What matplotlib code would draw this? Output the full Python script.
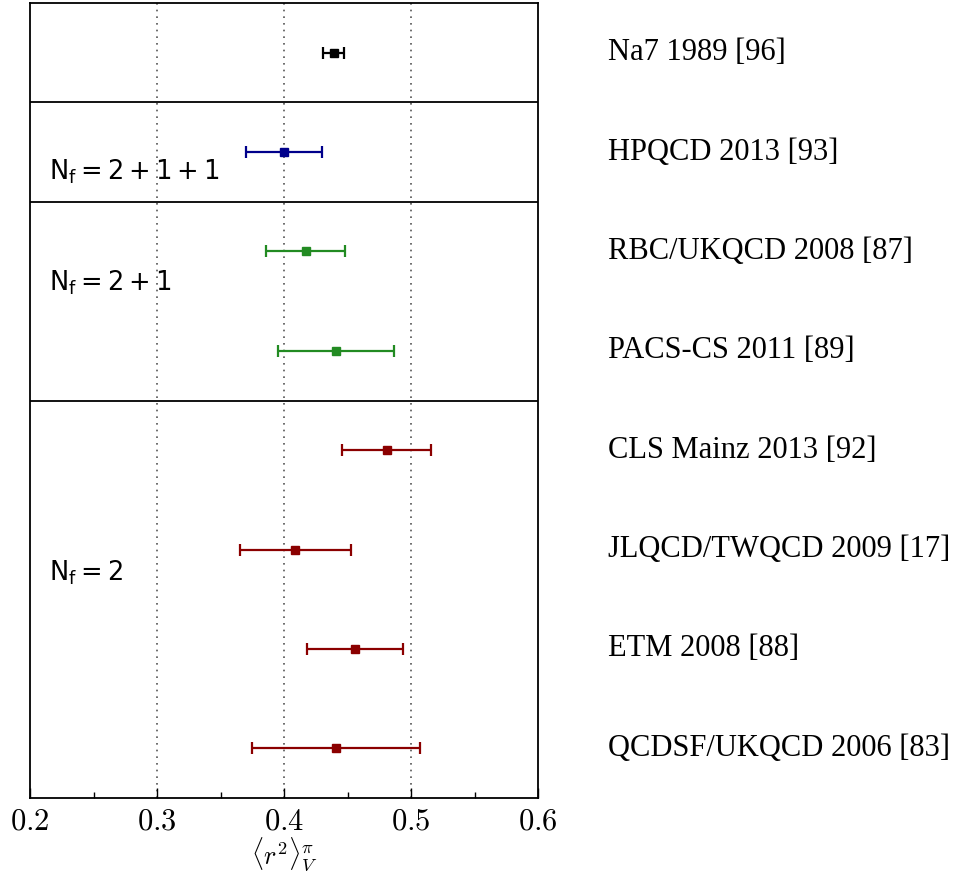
import matplotlib
matplotlib.use('Agg')
import matplotlib.pyplot as plt
import matplotlib.transforms as mtransforms

plt.rcParams['mathtext.fontset'] = 'cm'

# data, top row first
labels = ['Na7 1989 [96]', 'HPQCD 2013 [93]', 'RBC/UKQCD 2008 [87]', 'PACS-CS 2011 [89]',
          'CLS Mainz 2013 [92]', 'JLQCD/TWQCD 2009 [17]', 'ETM 2008 [88]', 'QCDSF/UKQCD 2006 [83]']
values = [0.439, 0.400, 0.417, 0.441, 0.481, 0.409, 0.456, 0.441]
errors = [0.008, 0.030, 0.031, 0.046, 0.035, 0.044, 0.038, 0.066]
colors = ['black', '#00008b', '#228b22', '#228b22', '#8b0000', '#8b0000', '#8b0000', '#8b0000']
groups = [r'$\mathrm{N_f = 2+1+1}$', r'$\mathrm{N_f = 2+1}$', r'$\mathrm{N_f = 2}$']
group_pos = [1.7, 2.82, 5.73]
separators = [1, 2, 4]
xticks = [0.2, 0.3, 0.4, 0.5, 0.6]

fig = plt.figure(figsize=(9.63, 8.76), dpi=100)
ax = fig.add_axes([30/963, 78/876, 508/963, 795/876])
ax.set_xlim(0.2, 0.6)
ax.set_ylim(len(labels), 0)

trans = mtransforms.blended_transform_factory(fig.transFigure, ax.transData)
for i in range(len(labels)):
    ax.errorbar(values[i], i + 0.5, xerr=errors[i], fmt='s', color=colors[i],
                ms=6, lw=1.6, capsize=4, capthick=1.6)
    ax.text(608/963, i + 0.5, labels[i], transform=trans, clip_on=False,
            fontsize=22, family='Liberation Serif', va='center', ha='left')

for s in separators:
    ax.axhline(s, color='black', lw=1.3)
for x in [0.3, 0.4, 0.5]:
    ax.axvline(x, color='#555555', lw=1.2, ls=(0, (1, 3)), zorder=0)
for g, y in zip(groups, group_pos):
    ax.text(0.215, y, g, fontsize=18.5, va='center', ha='left', math_fontfamily='dejavusans')

ax.set_yticks([])
ax.set_xticks(xticks)
ax.set_xticklabels(['$%.1f$' % t for t in xticks], fontsize=22)
ax.set_xticks([0.25, 0.35, 0.45, 0.55], minor=True)
ax.tick_params(axis='x', which='major', direction='in', length=7, width=1, pad=6)
ax.tick_params(axis='x', which='minor', direction='in', length=4, width=1)
ax.set_xlabel(r'$\langle r^2\rangle^{\pi}_V$', fontsize=19, labelpad=0)
for sp in ax.spines.values():
    sp.set_linewidth(1.3)

fig.savefig('out.png', dpi=100)
